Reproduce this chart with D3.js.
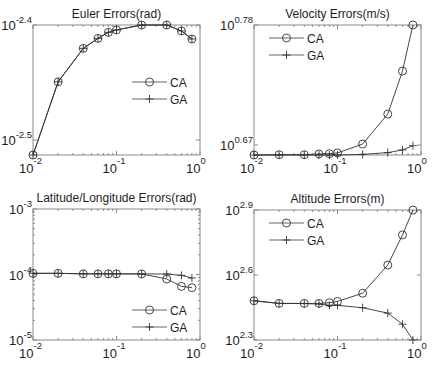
<!DOCTYPE html>
<html>
<head>
<meta charset="utf-8">
<script src="https://cdn.jsdelivr.net/npm/d3@7"></script>
<style>
  body { margin: 0; background: #fff; }
  text { font-family: "Liberation Sans", Arial, sans-serif; fill: #1e1e1e; }
</style>
</head>
<body>
<div id="chart"></div>
<script>
// sample points along x (same for every panel)
const xValues = [0.01, 0.02, 0.04, 0.06, 0.08, 0.1, 0.2, 0.4, 0.6, 0.8];
const xTicks = [0.01, 0.1, 1];
const xTickExp = ["-2", "-1", "0"];

// Euler errors (rad)
const eulerCA = [0.003069, 0.003553, 0.003799, 0.003876, 0.003923, 0.003942, 0.003981, 0.003981, 0.003934, 0.003871];
const eulerGA = [0.003069, 0.003553, 0.003799, 0.003876, 0.003923, 0.003942, 0.003981, 0.003981, 0.003934, 0.003871];
const eulerTicks = [0.0031623, 0.0039811];
const eulerTickExp = ["-2.5", "-2.4"];

// velocity errors (m/s)
const velCA = [4.580, 4.583, 4.583, 4.590, 4.593, 4.600, 4.687, 4.993, 5.467, 6.026];
const velGA = [4.580, 4.580, 4.580, 4.580, 4.580, 4.580, 4.586, 4.603, 4.629, 4.671];
const velTicks = [4.6774, 6.0256];
const velTickExp = ["0.67", "0.78"];

// latitude / longitude errors (rad)
const latCA = [1.042e-4, 1.042e-4, 1.023e-4, 1.023e-4, 1.023e-4, 1.023e-4, 1.019e-4, 8.53e-5, 6.59e-5, 6.30e-5];
const latGA = [1.042e-4, 1.042e-4, 1.023e-4, 1.023e-4, 1.023e-4, 1.023e-4, 1.019e-4, 1.018e-4, 9.70e-5, 8.85e-5];
const latTicks = [1e-5, 1e-4, 1e-3];
const latTickExp = ["-5", "-4", "-3"];

// altitude errors (m)
const altCA = [302.7, 294.4, 294.4, 294.4, 296.5, 300.6, 328.1, 442.6, 609.5, 794.3];
const altGA = [302.7, 294.4, 293.8, 292.4, 288.4, 288.4, 281.2, 265.5, 236.0, 199.5];
const altTicks = [199.53, 398.11, 794.33];
const altTickExp = ["2.3", "2.6", "2.9"];

const seriesNames = ["CA", "GA"];

const panels = [
  { title: "Euler Errors(rad)", ca: eulerCA, ga: eulerGA, ticks: eulerTicks, exps: eulerTickExp,
    yDomain: [0.003069, 0.0039811], minorY: false,
    box: [33, 200, 25, 155], legend: [132, 82] },
  { title: "Velocity Errors(m/s)", ca: velCA, ga: velGA, ticks: velTicks, exps: velTickExp,
    yDomain: [4.580, 6.0256], minorY: false,
    box: [254, 421, 25, 155], legend: [269, 38] },
  { title: "Latitude/Longitude Errors(rad)", ca: latCA, ga: latGA, ticks: latTicks, exps: latTickExp,
    yDomain: [1e-5, 1e-3], minorY: true,
    box: [33, 200, 209, 340], legend: [132, 310] },
  { title: "Altitude Errors(m)", ca: altCA, ga: altGA, ticks: altTicks, exps: altTickExp,
    yDomain: [199.53, 794.33], minorY: false,
    box: [254, 421, 210, 340], legend: [269, 223] }
];

const axisColor = "#8a8a8a";
const lineColor = "#333";

const svg = d3.select("#chart").append("svg")
  .attr("width", 436)
  .attr("height", 368);

function drawCircle(g, cx, cy) {
  g.append("circle")
    .attr("cx", cx).attr("cy", cy).attr("r", 4)
    .attr("fill", "none").attr("stroke", lineColor).attr("stroke-width", 0.9);
}

function drawPlus(g, cx, cy) {
  g.append("path")
    .attr("d", "M" + (cx - 4) + "," + cy + "H" + (cx + 4) + "M" + cx + "," + (cy - 4) + "V" + (cy + 4))
    .attr("stroke", lineColor).attr("stroke-width", 0.9).attr("fill", "none");
}

function drawPanel(p) {
  const [left, right, top, bottom] = p.box;
  const x = d3.scaleLog().domain([0.01, 1]).range([left, right]);
  const y = d3.scaleLog().domain(p.yDomain).range([bottom, top]);
  const g = svg.append("g");

  // title
  g.append("text")
    .attr("x", (left + right) / 2)
    .attr("y", top - 7)
    .attr("text-anchor", "middle")
    .attr("font-size", 12)
    .text(p.title);

  // minor x ticks (bottom + top)
  const minor = [];
  [0.01, 0.1].forEach(d => { for (let k = 2; k <= 9; k++) minor.push(d * k); });
  minor.forEach(v => {
    g.append("line").attr("x1", x(v)).attr("x2", x(v)).attr("y1", bottom).attr("y2", bottom - 2)
      .attr("stroke", axisColor);
    g.append("line").attr("x1", x(v)).attr("x2", x(v)).attr("y1", top).attr("y2", top + 2)
      .attr("stroke", axisColor);
  });
  if (p.minorY) {
    const my = [];
    [1e-5, 1e-4].forEach(d => { for (let k = 2; k <= 9; k++) my.push(d * k); });
    my.forEach(v => {
      g.append("line").attr("x1", left).attr("x2", left + 2).attr("y1", y(v)).attr("y2", y(v)).attr("stroke", axisColor);
      g.append("line").attr("x1", right).attr("x2", right - 2).attr("y1", y(v)).attr("y2", y(v)).attr("stroke", axisColor);
    });
  }

  // major x ticks + labels
  xTicks.forEach((v, i) => {
    const tx = x(v);
    g.append("line").attr("x1", tx).attr("x2", tx).attr("y1", bottom).attr("y2", bottom - 4).attr("stroke", axisColor);
    g.append("line").attr("x1", tx).attr("x2", tx).attr("y1", top).attr("y2", top + 4).attr("stroke", axisColor);
    g.append("text").attr("x", tx + 0.5).attr("y", bottom + 18).attr("text-anchor", "end")
      .attr("font-size", 13).text("10");
    g.append("text").attr("x", tx + 0.5).attr("y", bottom + 9).attr("text-anchor", "start")
      .attr("font-size", 9.5).text(xTickExp[i]);
  });

  // major y ticks + labels
  p.ticks.forEach((v, i) => {
    const ty = y(v);
    g.append("line").attr("x1", left).attr("x2", left + 4).attr("y1", ty).attr("y2", ty).attr("stroke", axisColor);
    g.append("line").attr("x1", right).attr("x2", right - 4).attr("y1", ty).attr("y2", ty).attr("stroke", axisColor);
    const t = g.append("text").attr("x", left - 1).attr("y", ty + 5).attr("text-anchor", "end");
    t.append("tspan").attr("font-size", 13).text("10");
    t.append("tspan").attr("font-size", 9.5).attr("dy", -7).text(p.exps[i]);
  });

  // axes box
  g.append("rect")
    .attr("x", left).attr("y", top)
    .attr("width", right - left).attr("height", bottom - top)
    .attr("fill", "none").attr("stroke", axisColor);

  const line = d3.line().x(d => x(d[0])).y(d => y(d[1]));
  [p.ca, p.ga].forEach((vals, si) => {
    const pts = xValues.map((xv, j) => [xv, vals[j]]);
    g.append("path").attr("d", line(pts))
      .attr("fill", "none").attr("stroke", lineColor).attr("stroke-width", 0.9);
    pts.forEach(d => {
      if (si === 0) drawCircle(g, x(d[0]), y(d[1]));
      else drawPlus(g, x(d[0]), y(d[1]));
    });
  });

  // legend (no box)
  const [lx, ly] = p.legend;
  seriesNames.forEach((name, i) => {
    const yy = ly + i * 17;
    g.append("line").attr("x1", lx).attr("x2", lx + 35).attr("y1", yy).attr("y2", yy)
      .attr("stroke", "#555").attr("stroke-width", 0.9);
    if (i === 0) drawCircle(g, lx + 17.5, yy);
    else drawPlus(g, lx + 17.5, yy);
    g.append("text").attr("x", lx + 38).attr("y", yy + 4.5).attr("font-size", 12).text(name);
  });
}

panels.forEach(drawPanel);
</script>
</body>
</html>
